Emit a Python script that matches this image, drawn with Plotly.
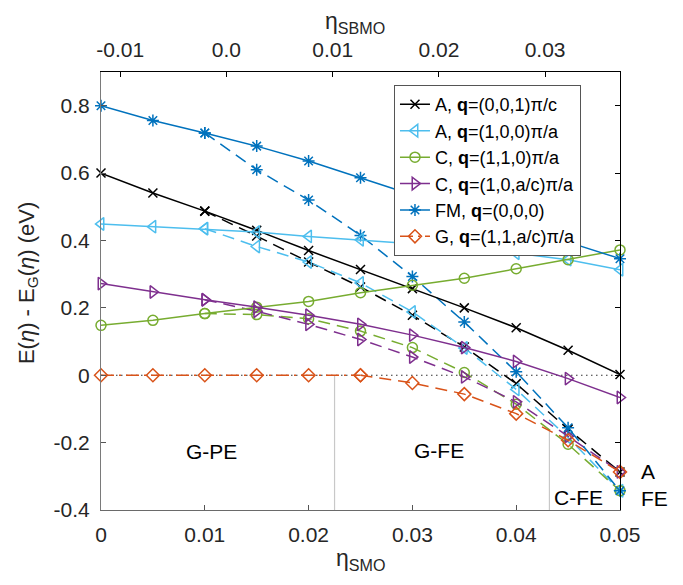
import plotly.graph_objects as go

# strain in SMO and the matching SBMO strain scale
eta_smo = [0.0, 0.005, 0.01, 0.015, 0.02, 0.025, 0.03, 0.035, 0.04, 0.045, 0.05]
eta_fe = eta_smo[2:]          # ferroelectric branches start at 0.01
eta_g_pe = eta_smo[:6]        # G paraelectric part
eta_g_fe = eta_smo[5:]        # G ferroelectric part

# energies relative to G-type (eV), paraelectric (solid) branches
a001 = [0.600, 0.541, 0.487, 0.430, 0.370, 0.314, 0.257, 0.200, 0.141, 0.074, 0.002]
a100 = [0.449, 0.441, 0.435, 0.425, 0.412, 0.402, 0.390, 0.378, 0.362, 0.343, 0.313]
c110 = [0.148, 0.163, 0.183, 0.202, 0.219, 0.245, 0.267, 0.288, 0.316, 0.343, 0.372]
c10ac = [0.272, 0.247, 0.224, 0.202, 0.178, 0.151, 0.119, 0.082, 0.041, -0.010, -0.066]
fm = [0.800, 0.756, 0.719, 0.680, 0.636, 0.586, 0.534, 0.485, 0.440, 0.395, 0.346]
g_pe = [0.0, 0.0, 0.0, 0.0, 0.0, 0.0]

# ferroelectric (dashed) branches
a001_fe = [0.487, 0.413, 0.336, 0.262, 0.178, 0.084, -0.025, -0.160, -0.287]
a100_fe = [0.435, 0.382, 0.336, 0.274, 0.188, 0.081, -0.042, -0.185, -0.343]
c110_fe = [0.183, 0.180, 0.168, 0.131, 0.082, 0.008, -0.086, -0.205, -0.343]
c10ac_fe = [0.224, 0.190, 0.151, 0.106, 0.054, -0.005, -0.079, -0.181, -0.287]
fm_fe = [0.719, 0.610, 0.520, 0.415, 0.293, 0.158, 0.010, -0.156, -0.343]
g_fe = [0.0, -0.023, -0.056, -0.114, -0.193, -0.287]

# phase boundaries
boundary_x = [0.0225, 0.0432]
boundary_top = [0.0, -0.163]

names = [
    "A, <b>q</b>=(0,0,1)π/c",
    "A, <b>q</b>=(1,0,0)π/a",
    "C, <b>q</b>=(1,1,0)π/a",
    "C, <b>q</b>=(1,0,a/c)π/a",
    "FM, <b>q</b>=(0,0,0)",
    "G, <b>q</b>=(1,1,a/c)π/a",
]
colors = ["#000000", "#4DBEEE", "#77AC30", "#7E2F8E", "#0072BD", "#D95319"]
symbols = ["x-thin-open", "triangle-left-open", "circle-open",
           "triangle-right-open", "asterisk-open", "diamond-open"]
sizes = [9, 11, 10, 11, 10, 10]

x_ticks = [0, 0.01, 0.02, 0.03, 0.04, 0.05]
x_ticktext = ["0", "0.01", "0.02", "0.03", "0.04", "0.05"]
y_ticks = [-0.4, -0.2, 0, 0.2, 0.4, 0.6, 0.8]
y_ticktext = ["-0.4", "-0.2", "0", "0.2", "0.4", "0.6", "0.8"]
top_ticks = [-0.01, 0.0, 0.01, 0.02, 0.03]
top_ticktext = ["-0.01", "0.0", "0.01", "0.02", "0.03"]

DASH = "12px,7px"
DASHDOT = "13px,5px,2px,5px"
FONT = "Liberation Sans, Arial, sans-serif"

fig = go.Figure()

# zero reference
fig.add_trace(go.Scatter(x=[0, 0.05], y=[0, 0], mode="lines",
                         line=dict(color="#333333", width=1.2, dash="1.5px,3.5px"),
                         showlegend=False, hoverinfo="skip"))

# phase boundary markers
for bx, bt in zip(boundary_x, boundary_top):
    fig.add_trace(go.Scatter(x=[bx, bx], y=[bt, -0.4], mode="lines",
                             line=dict(color="#c8c8c8", width=1.2),
                             showlegend=False, hoverinfo="skip"))

solid = [(eta_smo, a001), (eta_smo, a100), (eta_smo, c110),
         (eta_smo, c10ac), (eta_smo, fm), (eta_g_pe, g_pe)]
dashed = [(eta_fe, a001_fe), (eta_fe, a100_fe), (eta_fe, c110_fe),
          (eta_fe, c10ac_fe), (eta_fe, fm_fe), (eta_g_fe, g_fe)]

for i in range(6):
    mk = dict(symbol=symbols[i], size=sizes[i], color=colors[i],
              line=dict(color=colors[i], width=1.5))
    xs, ys = dashed[i]
    fig.add_trace(go.Scatter(x=xs, y=ys, mode="lines+markers",
                             line=dict(color=colors[i], width=1.5, dash=DASH),
                             marker=mk, showlegend=False, cliponaxis=False))

for i in range(6):
    mk = dict(symbol=symbols[i], size=sizes[i], color=colors[i],
              line=dict(color=colors[i], width=1.5))
    xs, ys = solid[i]
    fig.add_trace(go.Scatter(x=xs, y=ys, mode="lines+markers", name=names[i],
                             line=dict(color=colors[i], width=1.5,
                                       dash=DASHDOT if i == 5 else "solid"),
                             marker=mk, cliponaxis=False, legendrank=i + 1))

# carrier for the top and right axes
fig.add_trace(go.Scatter(x=[None], y=[None], xaxis="x2", yaxis="y2",
                         showlegend=False, hoverinfo="skip"))

# phase labels inside the axes
labels = [("G-PE", 0.01067, -0.227), ("G-FE", 0.0326, -0.224),
          ("C-FE", 0.0460, -0.364)]
for txt, lx, ly in labels:
    fig.add_annotation(x=lx, y=ly, text=txt, showarrow=False, xref="x", yref="y",
                       xanchor="center", yanchor="middle",
                       font=dict(family=FONT, size=21, color="#000000"))

# end-point labels to the right of the axes
for txt, px, ly in [("A", 1.054, -0.286), ("FE", 1.067, -0.367)]:
    fig.add_annotation(x=px, y=ly, text=txt, showarrow=False, xref="paper", yref="y",
                       xanchor="center", yanchor="middle",
                       font=dict(family=FONT, size=21, color="#000000"))

fig.add_annotation(x=0.5, y=-0.114, xref="paper", yref="paper",
                   xanchor="center", yanchor="middle",
                   text="η<sub>SMO</sub>", showarrow=False,
                   font=dict(family=FONT, size=23, color="#262626"))
fig.add_annotation(x=0.49, y=1.114, xref="paper", yref="paper",
                   xanchor="center", yanchor="middle",
                   text="η<sub>SBMO</sub>", showarrow=False,
                   font=dict(family=FONT, size=23, color="#262626"))
fig.add_annotation(x=-0.1407, y=0.518, xref="paper", yref="paper",
                   xanchor="center", yanchor="middle",
                   text="E(<i>η</i>) - E<sub>G</sub>(<i>η</i>) (eV)", textangle=-90,
                   showarrow=False, font=dict(family=FONT, size=22, color="#262626"))

axis_font = dict(family=FONT, size=21, color="#262626")
fig.update_layout(
    width=683, height=585,
    margin=dict(l=101, r=63, t=72, b=75),
    paper_bgcolor="white", plot_bgcolor="white",
    font=dict(family=FONT),
    xaxis=dict(range=[0, 0.05], tickvals=x_ticks, ticktext=x_ticktext,
               ticks="inside", ticklen=5, tickcolor="#555555",
               showline=True, linecolor="#6a6a6a", linewidth=1,
               showgrid=False, zeroline=False, tickfont=axis_font,
               ticklabelstandoff=6),
    yaxis=dict(range=[-0.4, 0.9], tickvals=y_ticks, ticktext=y_ticktext,
               ticks="inside", ticklen=5, tickcolor="#555555",
               showline=True, linecolor="#7a7a7a", linewidth=1,
               showgrid=False, zeroline=False, tickfont=axis_font,
               ticklabelstandoff=6),
    xaxis2=dict(range=[-0.01181, 0.03705], tickvals=top_ticks, ticktext=top_ticktext,
                overlaying="x", side="top", anchor="y2",
                ticks="inside", ticklen=5, tickcolor="#000000",
                showline=True, linecolor="#000000", linewidth=1,
                showgrid=False, zeroline=False, tickfont=axis_font,
                ticklabelstandoff=6),
    yaxis2=dict(range=[-0.4, 0.9], tickvals=y_ticks, showticklabels=False,
                overlaying="y", side="right", anchor="x2",
                ticks="inside", ticklen=5, tickcolor="#000000",
                showline=True, linecolor="#000000", linewidth=1,
                showgrid=False, zeroline=False),
    legend=dict(x=0.5645, y=0.970, xanchor="left", yanchor="top",
                bgcolor="white", bordercolor="#555555", borderwidth=1,
                font=dict(family=FONT, size=18, color="#000000"),
                tracegroupgap=0, itemwidth=30),
    showlegend=True,
)

fig.write_html("out.html")
